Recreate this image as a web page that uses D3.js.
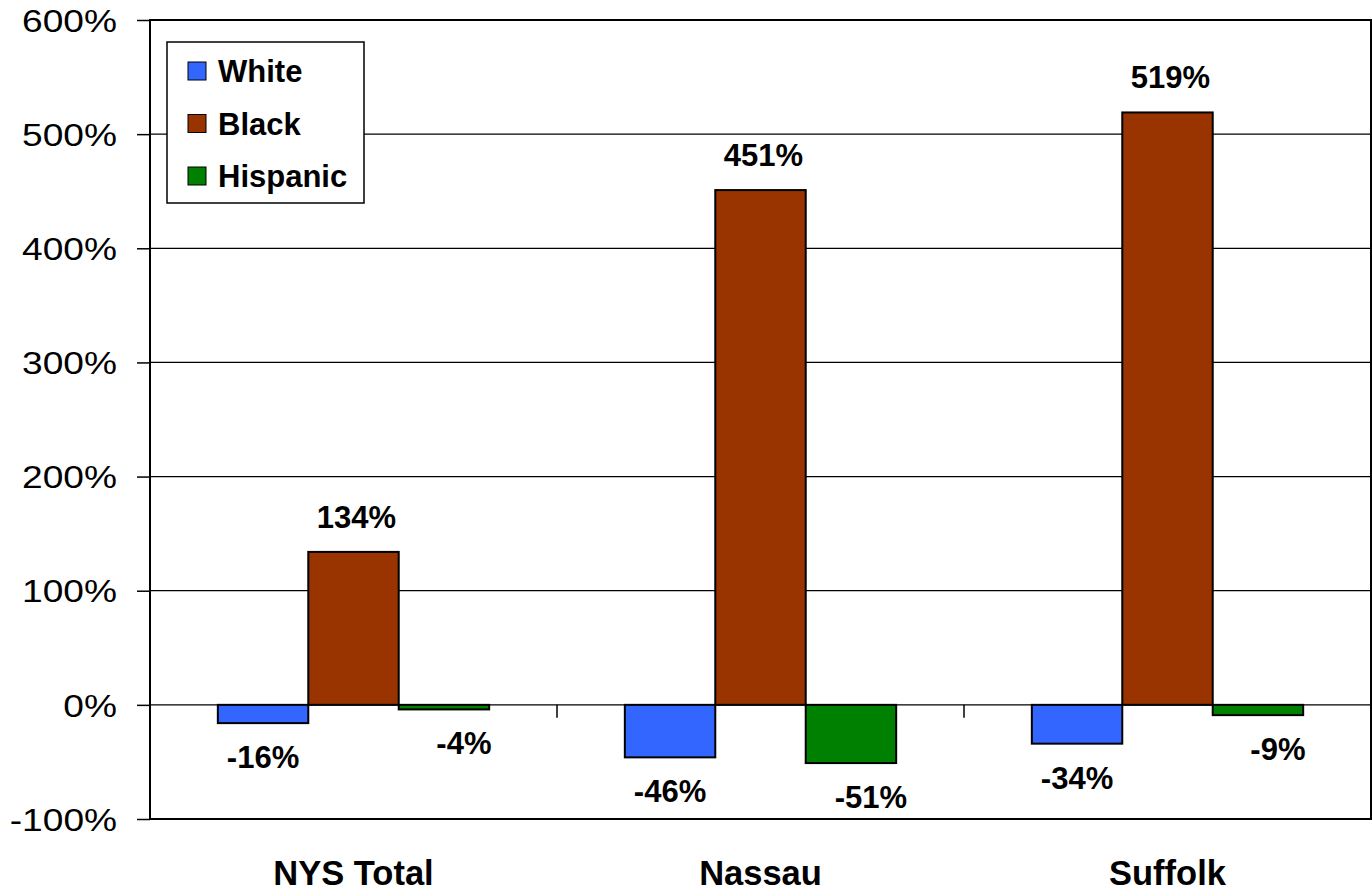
<!DOCTYPE html>
<html>
<head>
<meta charset="utf-8">
<script src="https://cdn.jsdelivr.net/npm/d3@7"></script>
<style>
  body { margin: 0; background: #fff; }
  svg { display: block; font-family: "Liberation Sans", Arial, sans-serif; }
</style>
</head>
<body>
<svg width="1372" height="894"></svg>
<script>
// chart values
var categories = ["NYS Total", "Nassau", "Suffolk"];
var series = ["White", "Black", "Hispanic"];
var white = [-16, -46, -34];
var black = [134, 451, 519];
var hispanic = [-4, -51, -9];
var yTicks = [-100, 0, 100, 200, 300, 400, 500, 600];
var colors = ["#3366FF", "#993300", "#008000"];

var svg = d3.select("svg"),
    margin = {top: 20, right: 1, bottom: 75, left: 150},
    width = +svg.attr("width") - margin.left - margin.right,
    height = +svg.attr("height") - margin.top - margin.bottom;

var g = svg.append("g").attr("transform", "translate(" + margin.left + "," + margin.top + ")");

var values = [white, black, hispanic];
var rows = [];
categories.forEach(function(c, i){
    series.forEach(function(s, j){
        rows.push({cat: c, ser: s, idx: j, v: values[j][i]});
    });
});

var x0 = d3.scaleBand().domain(categories).range([0, width]).padding(0);
var x1 = d3.scaleBand().domain(series).range([0, x0.bandwidth()]).paddingInner(0).paddingOuter(0.75);
var y = d3.scaleLinear().domain([-100, 600]).range([height, 0]);

// gridlines
g.append("g")
    .selectAll("line")
    .data(yTicks)
    .enter().append("line")
    .attr("x1", 0).attr("x2", width)
    .attr("y1", d => y(d)).attr("y2", d => y(d))
    .attr("stroke", "#000")
    .attr("stroke-width", 1.2);

// y axis
var yAxis = g.append("g")
    .call(d3.axisLeft(y).tickValues(yTicks).tickSize(13).tickFormat(d => d + "%"));
yAxis.select(".domain").remove();
yAxis.selectAll(".tick line").attr("stroke", "#000").attr("stroke-width", 1.5);
yAxis.selectAll(".tick text")
    .attr("x", -33 / 1.16)
    .attr("dy", "0.35em")
    .attr("transform", "scale(1.16,1)")
    .attr("fill", "#000")
    .style("font-size", "32px")
    .style("font-family", "'Liberation Sans', Arial, sans-serif");

// category boundary ticks on zero line
var bounds = categories.map(c => x0(c)).concat([width]);
g.append("g")
    .selectAll("line")
    .data(bounds)
    .enter().append("line")
    .attr("x1", d => d).attr("x2", d => d)
    .attr("y1", y(0)).attr("y2", y(0) + 13)
    .attr("stroke", "#000")
    .attr("stroke-width", 1.5);

// bars
g.append("g")
    .selectAll("rect")
    .data(rows)
    .enter().append("rect")
    .attr("x", d => x0(d.cat) + x1(d.ser))
    .attr("y", d => y(Math.max(0, d.v)))
    .attr("width", x1.bandwidth())
    .attr("height", d => Math.abs(y(d.v) - y(0)))
    .attr("fill", d => colors[d.idx])
    .attr("stroke", "#000")
    .attr("stroke-width", 2);

// data labels
g.append("g")
    .selectAll("text")
    .data(rows)
    .enter().append("text")
    .attr("x", d => x0(d.cat) + x1(d.ser) + x1.bandwidth() / 2 + (d.idx === 2 ? 20 : d.idx === 1 ? 3 : 0))
    .attr("y", d => d.v >= 0 ? y(d.v) - 24 : y(d.v) + 45)
    .attr("text-anchor", "middle")
    .style("font-size", "31px")
    .style("font-weight", "bold")
    .text(d => d.v + "%");

// plot border
g.append("rect")
    .attr("x", 0).attr("y", 0)
    .attr("width", width).attr("height", height)
    .attr("fill", "none")
    .attr("stroke", "#000")
    .attr("stroke-width", 2);

// category labels
g.append("g")
    .selectAll("text")
    .data(categories)
    .enter().append("text")
    .attr("x", d => x0(d) + x0.bandwidth() / 2)
    .attr("y", height + 66)
    .attr("text-anchor", "middle")
    .style("font-size", "34.5px")
    .style("font-weight", "bold")
    .text(d => d);

// legend
var legend = svg.append("g").attr("transform", "translate(167,42)");
legend.append("rect")
    .attr("width", 197).attr("height", 161)
    .attr("fill", "#fff")
    .attr("stroke", "#000")
    .attr("stroke-width", 1.5);
var item = legend.selectAll(".item")
    .data(series)
    .enter().append("g")
    .attr("class", "item")
    .attr("transform", (d, i) => "translate(21," + (20 + i * 52.5) + ")");
item.append("rect")
    .attr("width", 18).attr("height", 18)
    .attr("fill", (d, i) => colors[i])
    .attr("stroke", "#000")
    .attr("stroke-width", 1);
item.append("text")
    .attr("x", 30)
    .attr("y", 20)
    .style("font-size", "31px")
    .style("font-weight", "bold")
    .text(d => d);
</script>
</body>
</html>
